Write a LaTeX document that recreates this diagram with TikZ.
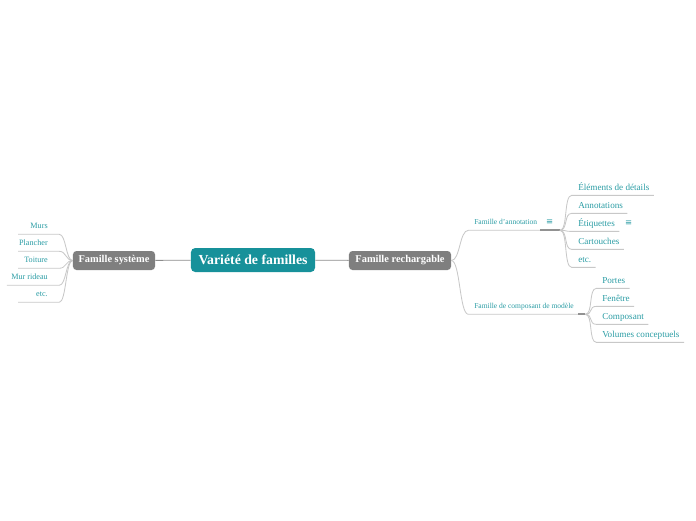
\documentclass[tikz,border=0pt]{standalone}
\usepackage{fontspec}
\setmainfont{Liberation Serif}
\newfontfamily\symfont{DejaVu Sans}
\usetikzlibrary{positioning}
\definecolor{MapTeal}{HTML}{17919A}
\definecolor{MapText}{HTML}{2A9CA4}
\definecolor{MapGray}{HTML}{7F7F7F}
\definecolor{MapLine}{HTML}{C8C8C8}

\begin{document}
\begin{tikzpicture}[x=0.025cm, y=-0.025cm,
        root/.style={rectangle, fill=MapTeal, text=white, rounded corners=3pt, minimum width=3.1cm, minimum height=0.6cm, inner sep=0pt, font=\fontsize{9.8}{11}\selectfont\bfseries},
        family/.style={rectangle, fill=MapGray, text=white, rounded corners=2.5pt, minimum height=0.475cm, inner sep=0pt, font=\fontsize{7.4}{9}\selectfont\bfseries},
        small/.style={text=MapText, inner xsep=0pt, inner ysep=2.2pt, text height=5.5pt, text depth=1.5pt, font=\fontsize{5.8}{7}\selectfont},
        sub/.style={small, font=\fontsize{5.35}{7}\selectfont},
        leaf/.style={text=MapText, inner xsep=0pt, inner ysep=2pt, text height=6pt, text depth=1.5pt, font=\fontsize{6.5}{8}\selectfont},
        icon/.style={text=MapText, inner sep=0pt, font=\symfont\fontsize{6}{7}\selectfont},
        trunk/.style={draw=MapGray!90, line width=0.6pt},
        branch/.style={draw=MapLine, line width=0.6pt},
        hub/.style={draw=MapGray!85, line width=1.6pt}
    ]
        \useasboundingbox (0,0) rectangle (696,520);

        % Main nodes
        \node [root] (root) at (253,260) {Variété de familles};
        \node [family, minimum width=2.05cm] (sys) at (114,260.5) {Famille système};
        \node [family, minimum width=2.55cm] (rech) at (400,260.5) {Famille rechargable};

        \draw [trunk] (sys) -- (root);
        \draw [trunk] (root) -- (rech);

        % Famille systeme
        \node [small, anchor=east] (murs) at (48,226) {Murs};
        \node [small, anchor=east] (plancher) at (48,243) {Plancher};
        \node [small, anchor=east] (toiture) at (48,260) {Toiture};
        \node [small, anchor=east] (murri) at (48,277) {Mur rideau};
        \node [small, anchor=east] (syset) at (48,294) {etc.};
        \coordinate (sysedge) at (18,0);

        \draw [branch] (sys.west) .. controls +(-7,0) and +(7,0) .. ([xshift=8pt]murs.south east) -- (murs.south -| sysedge);
        \draw [branch] (sys.west) .. controls +(-7,0) and +(7,0) .. ([xshift=8pt]plancher.south east) -- (plancher.south -| sysedge);
        \draw [branch] (sys.west) .. controls +(-7,0) and +(7,0) .. ([xshift=8pt]toiture.south east) -- (toiture.south -| sysedge);
        \draw [branch] (sys.west) .. controls +(-7,0) and +(7,0) .. ([xshift=8pt]murri.south east) -- ([xshift=-3pt]murri.south west);
        \draw [branch] (sys.west) .. controls +(-7,0) and +(7,0) .. ([xshift=8pt]syset.south east) -- (syset.south -| sysedge);

        % Famille d'annotation
        \node [sub, anchor=west] (ann) at (474,222) {Famille d’annotation};
        \node [icon, right=6pt of ann] (annicon) {≡};
        \coordinate (annhub) at ([xshift=16pt]ann.south east);

        \draw [branch] (rech.east) .. controls +(9,0) and +(-9,0) .. ([xshift=-4pt]ann.south west) -- ([xshift=2pt]ann.south east);
        \draw [hub] ([xshift=2pt]ann.south east) -- (annhub);

        \node [leaf, anchor=west] (elem) at (578,187) {Éléments de détails};
        \node [leaf, anchor=west] (annot) at (578,205) {Annotations};
        \node [leaf, anchor=west] (etiq) at (578,223) {Étiquettes};
        \node [icon, right=7pt of etiq] (etiqicon) {≡};
        \node [leaf, anchor=west] (cart) at (578,241) {Cartouches};
        \node [leaf, anchor=west] (annet) at (578,259) {etc.};

        \draw [branch] (annhub) .. controls +(8,0) and +(-8,0) .. ([xshift=-4.5pt]elem.south west) -- ([xshift=3pt]elem.south east);
        \draw [branch] (annhub) .. controls +(8,0) and +(-8,0) .. ([xshift=-4.5pt]annot.south west) -- ([xshift=3pt]annot.south east);
        \draw [branch] (annhub) .. controls +(8,0) and +(-8,0) .. ([xshift=-4.5pt]etiq.south west) -- ([xshift=3pt]etiq.south east);
        \draw [branch] (annhub) .. controls +(8,0) and +(-8,0) .. ([xshift=-4.5pt]cart.south west) -- ([xshift=3pt]cart.south east);
        \draw [branch] (annhub) .. controls +(8,0) and +(-8,0) .. ([xshift=-4.5pt]annet.south west) -- ([xshift=3pt]annet.south east);

        % Famille de composant de modele
        \node [sub, anchor=west] (comp) at (474,306) {Famille de composant de modèle};
        \coordinate (comphub) at ([xshift=8pt]comp.south east);

        \draw [branch] (rech.east) .. controls +(9,0) and +(-9,0) .. ([xshift=-4pt]comp.south west) -- ([xshift=3pt]comp.south east);
        \draw [hub] ([xshift=3pt]comp.south east) -- (comphub);

        \node [leaf, anchor=west] (portes) at (602,280) {Portes};
        \node [leaf, anchor=west] (fen) at (602,298) {Fenêtre};
        \node [leaf, anchor=west] (compo) at (602,316) {Composant};
        \node [leaf, anchor=west] (vol) at (602,334) {Volumes conceptuels};

        \draw [branch] (comphub) .. controls +(8,0) and +(-8,0) .. ([xshift=-4pt]portes.south west) -- ([xshift=3pt]portes.south east);
        \draw [branch] (comphub) .. controls +(8,0) and +(-8,0) .. ([xshift=-4pt]fen.south west) -- ([xshift=3pt]fen.south east);
        \draw [branch] (comphub) .. controls +(8,0) and +(-8,0) .. ([xshift=-4pt]compo.south west) -- ([xshift=3pt]compo.south east);
        \draw [branch] (comphub) .. controls +(8,0) and +(-8,0) .. ([xshift=-4pt]vol.south west) -- ([xshift=3pt]vol.south east);
\end{tikzpicture}
\end{document}
